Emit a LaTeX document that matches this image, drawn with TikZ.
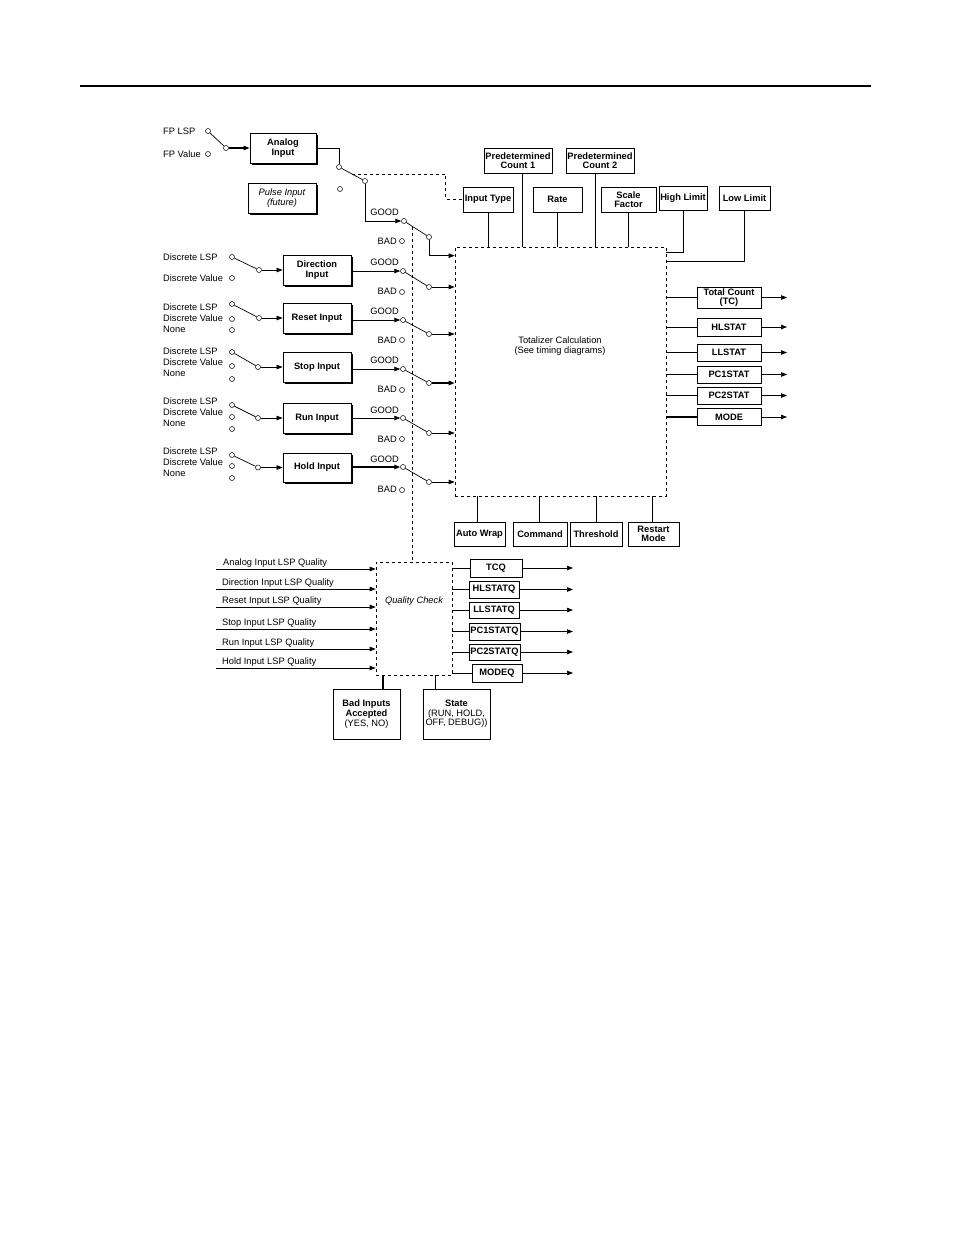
\documentclass[tikz,border=0pt]{standalone}
\usepackage{fontspec}
\setmainfont{Liberation Sans}
\usetikzlibrary{arrows.meta,shadows,calc}
\begin{document}
\begin{tikzpicture}[x=1pt,y=-1pt,
  font=\fontsize{9.3}{9.6}\selectfont,
  every node/.style={inner sep=0pt},
  box/.style={draw, line width=0.8pt, fill=white, align=center, font=\fontsize{9.3}{9.6}\selectfont\bfseries},
  sbox/.style={box, drop shadow={shadow xshift=1.6pt, shadow yshift=-1.6pt, opacity=1, fill=black}},
  tbox/.style={box, drop shadow={shadow xshift=0.8pt, shadow yshift=-0.8pt, opacity=1, fill=black}},
  pbox/.style={box, line width=0.8pt},
  contact/.style={circle, draw, line width=0.5pt, minimum size=5pt, fill=white},
  lab/.style={anchor=west},
  gl/.style={anchor=east},
  tip/.style={-{Triangle[length=6pt,width=4.5pt]}},
  ln/.style={line width=0.7pt},
  thk/.style={line width=1.4pt},
  dsh/.style={line width=0.7pt, dash pattern=on 3pt off 3pt},
  vdsh/.style={line width=1.3pt, dash pattern=on 3pt off 3pt},
]
\useasboundingbox (0,0) rectangle (954,1235);
\draw[line width=1.5pt] (80,86) -- (871,86);

% ---------- main blocks
\node[draw, dsh, minimum width=211pt, minimum height=249pt] (tot) at (560.5,371.5) {};
\node[align=center] (tott) at (560,346) {Totalizer Calculation\\(See timing diagrams)};
\node[draw, dsh, minimum width=76pt, minimum height=113pt] (qc) at (414,618.5) {};
\node[font=\fontsize{9.3}{9.6}\selectfont\itshape] (qct) at (414,601) {Quality Check};

% ---------- top parameter boxes
\node[tbox, minimum width=68pt, minimum height=25pt] (pc1) at (518,160.5) {Predetermined\\Count 1};
\node[tbox, minimum width=68pt, minimum height=25pt] (pc2) at (600,160.5) {Predetermined\\Count 2};
\node[tbox, minimum width=50pt, minimum height=25pt] (it) at (488,199.5) {Input Type};
\node[tbox, minimum width=49pt, minimum height=25pt] (rate) at (557.5,199.5) {Rate};
\node[tbox, minimum width=55pt, minimum height=25pt] (sf) at (628.5,199.5) {Scale\\Factor};
\node[tbox, minimum width=48pt, minimum height=24pt] (hl) at (683,198) {High Limit};
\node[tbox, minimum width=51pt, minimum height=24pt] (ll) at (744.5,198) {Low Limit};

\draw[ln] (it.south) -- (it.south |- tot.north);
\draw[ln] ([xshift=4pt]pc1.south) -- ([xshift=4pt]pc1.south |- tot.north);
\draw[thk] (rate.south) -- (rate.south |- tot.north);
\draw[ln] ([xshift=-5pt]pc2.south) -- ([xshift=-5pt]pc2.south |- tot.north);
\draw[thk] (sf.south) -- (sf.south |- tot.north);
\draw[ln] (hl.south) |- ($(tot.north east)+(0,6)$);
\draw[ln] (ll.south) |- ($(tot.north east)+(0,15)$);

% ---------- right outputs
\coordinate (rend) at (787,0);
\node[pbox, minimum width=64pt, minimum height=21pt] (tc) at (729,297.5) {Total Count\\(TC)};
\node[pbox, minimum width=64pt, minimum height=18pt] (hls) at (729,327) {HLSTAT};
\node[pbox, minimum width=64pt, minimum height=17pt] (lls) at (729,352.5) {LLSTAT};
\node[pbox, minimum width=64pt, minimum height=17pt] (pc1s) at (729,374.5) {PC1STAT};
\node[pbox, minimum width=64pt, minimum height=17pt] (pc2s) at (729,395.5) {PC2STAT};
\node[pbox, minimum width=64pt, minimum height=17pt] (mode) at (729,417) {MODE};
\foreach \n in {tc,hls,lls,pc1s,pc2s}{
  \draw[ln] (tot.east |- \n.west) -- (\n.west);
  \draw[ln,tip] (\n.east) -- (\n.east -| rend);
}
\draw[thk] (tot.east |- mode.west) -- (mode.west);
\draw[ln,tip] (mode.east) -- (mode.east -| rend);

% ---------- bottom parameter boxes
\node[pbox, minimum width=51pt, minimum height=24pt] (aw) at (479.5,534) {Auto Wrap};
\node[pbox, minimum width=54pt, minimum height=24pt] (cmd) at (540,534) {Command};
\node[pbox, minimum width=52pt, minimum height=24pt] (thr) at (596,534) {Threshold};
\node[pbox, minimum width=51pt, minimum height=24pt] (rm) at (653.5,534) {Restart\\Mode};
\draw[ln] ([xshift=-2.5pt]aw.north) -- ([xshift=-2.5pt]aw.north |- tot.south);
\draw[ln] ([xshift=-1pt]cmd.north) -- ([xshift=-1pt]cmd.north |- tot.south);
\draw[ln] (thr.north) -- (thr.north |- tot.south);
\draw[ln] ([xshift=-1.5pt]rm.north) -- ([xshift=-1.5pt]rm.north |- tot.south);

% ---------- analog input section
\node[lab] (fpl) at (163,131) {FP LSP};
\node[lab] (fpv) at (163,154) {FP Value};
\node[contact] (fc1) at (208,131) {};
\node[contact] (fc2) at (208,154) {};
\node[contact] (fp) at (226,148) {};
\node[sbox, minimum width=66pt, minimum height=30pt] (ai) at (283,148) {Analog\\Input};
\node[sbox, minimum width=68pt, minimum height=30pt, font=\fontsize{9.3}{9.6}\selectfont\itshape] (pi) at (282,198) {Pulse Input\\(future)};
\draw[ln] (fc1) -- (fp);
\draw[thk,tip] (fp) -- (ai);

\node[contact] (a1) at (339,167) {};
\node[contact] (a2) at (340,189) {};
\node[contact] (ap) at (365,181) {};
\draw[ln] (ai.east) -| (a1);
\draw[ln] (a1) -- (ap);
\coordinate (lm) at ($(a1)!0.5!(ap)$);
\draw[dsh] (lm) -| ([xshift=-17pt]it.west) -- (it.west);

\node[contact] (g0) at (404,221) {};
\node[contact] (b0) at (402,241) {};
\node[contact] (q0) at (429,237) {};
\node[gl] (g0t) at (399,212) {GOOD};
\node[gl] (b0t) at (397,241) {BAD};
\draw[ln,tip] (ap) |- (g0);
\draw[ln] (g0) -- (q0);
\draw[ln,tip] (q0) |- ($(tot.north west)+(0,9)$);

% ---------- direction input
\node[lab] (dl1) at (163,257) {Discrete LSP};
\node[lab] (dl2) at (163,278) {Discrete Value};
\node[contact] (dc1) at (232,257) {};
\node[contact] (dc2) at (232,278) {};
\node[contact] (dp) at (259,270) {};
\node[sbox, minimum width=68pt, minimum height=30pt] (di) at (317,270) {Direction\\Input};
\draw[ln] (dc1) -- (dp);
\draw[ln,tip] (dp) -- (di);
\node[contact] (g1) at (403,271) {};
\node[contact] (b1) at (402,292) {};
\node[contact] (q1) at (429,287) {};
\node[gl] (g1t) at (399,262) {GOOD};
\node[gl] (b1t) at (397,291) {BAD};
\draw[ln,tip] (di.east |- g1) -- (g1);
\draw[ln] (g1) -- (q1);
\draw[ln,tip] (q1) -- (tot.west |- q1);

% ---------- reset input
\node[lab] (rl1) at (163,307) {Discrete LSP};
\node[lab] (rl2) at (163,318) {Discrete Value};
\node[lab] (rl3) at (163,329) {None};
\node[contact] (rc1) at (232,304) {};
\node[contact] (rc2) at (232,319) {};
\node[contact] (rc3) at (232,330) {};
\node[contact] (rp) at (259,318) {};
\node[sbox, minimum width=68pt, minimum height=30pt] (ri) at (317,318) {Reset Input};
\draw[ln] (rc1) -- (rp);
\draw[ln,tip] (rp) -- (ri);
\node[contact] (g2) at (403,320) {};
\node[contact] (b2) at (402,340) {};
\node[contact] (q2) at (429,334) {};
\node[gl] (g2t) at (399,311) {GOOD};
\node[gl] (b2t) at (397,340) {BAD};
\draw[ln,tip] (ri.east |- g2) -- (g2);
\draw[ln] (g2) -- (q2);
\draw[ln,tip] (q2) -- (tot.west |- q2);

% ---------- stop input
\node[lab] (sl1) at (163,351) {Discrete LSP};
\node[lab] (sl2) at (163,362) {Discrete Value};
\node[lab] (sl3) at (163,373) {None};
\node[contact] (sc1) at (232,352) {};
\node[contact] (sc2) at (232,366) {};
\node[contact] (sc3) at (232,379) {};
\node[contact] (sp) at (258,367) {};
\node[sbox, minimum width=68pt, minimum height=30pt] (si) at (317,367) {Stop Input};
\draw[ln] (sc1) -- (sp);
\draw[ln,tip] (sp) -- (si);
\node[contact] (g3) at (403,369) {};
\node[contact] (b3) at (402,390) {};
\node[contact] (q3) at (429,383) {};
\node[gl] (g3t) at (399,360) {GOOD};
\node[gl] (b3t) at (397,389) {BAD};
\draw[ln,tip] (si.east |- g3) -- (g3);
\draw[ln] (g3) -- (q3);
\draw[thk,tip] (q3) -- (tot.west |- q3);

% ---------- run input
\node[lab] (ul1) at (163,401) {Discrete LSP};
\node[lab] (ul2) at (163,412) {Discrete Value};
\node[lab] (ul3) at (163,423) {None};
\node[contact] (uc1) at (232,405) {};
\node[contact] (uc2) at (232,417) {};
\node[contact] (uc3) at (232,429) {};
\node[contact] (up) at (258,418) {};
\node[sbox, minimum width=68pt, minimum height=30pt] (rui) at (317,418) {Run Input};
\draw[ln] (uc1) -- (up);
\draw[ln,tip] (up) -- (rui);
\node[contact] (g4) at (403,418) {};
\node[contact] (b4) at (402,439) {};
\node[contact] (q4) at (429,433) {};
\node[gl] (g4t) at (399,410) {GOOD};
\node[gl] (b4t) at (397,439) {BAD};
\draw[ln,tip] (rui.east |- g4) -- (g4);
\draw[ln] (g4) -- (q4);
\draw[ln,tip] (q4) -- (tot.west |- q4);

% ---------- hold input
\node[lab] (hl1) at (163,451) {Discrete LSP};
\node[lab] (hl2) at (163,462) {Discrete Value};
\node[lab] (hl3) at (163,473) {None};
\node[contact] (hc1) at (232,455) {};
\node[contact] (hc2) at (232,466) {};
\node[contact] (hc3) at (232,478) {};
\node[contact] (hp) at (258,467.5) {};
\node[sbox, minimum width=68pt, minimum height=29pt] (hi) at (317,467.5) {Hold Input};
\draw[ln] (hc1) -- (hp);
\draw[ln,tip] (hp) -- (hi);
\node[contact] (g5) at (403,467) {};
\node[contact] (b5) at (402,490) {};
\node[contact] (q5) at (429,482) {};
\node[gl] (g5t) at (399,459) {GOOD};
\node[gl] (b5t) at (397,489) {BAD};
\draw[thk,tip] (hi.east |- g5) -- (g5);
\draw[ln] (g5) -- (q5);
\draw[ln,tip] (q5) -- (tot.west |- q5);

% ---------- mechanical link of the GOOD/BAD switches
\coordinate (vm) at ($(g0)!0.35!(q0)$);
\draw[vdsh] (vm) -- (vm |- qc.north);

% ---------- quality check inputs
\node[lab] (qt1) at (223,563) {Analog Input LSP Quality};
\node[lab] (qt2) at (222,583) {Direction Input LSP Quality};
\node[lab] (qt3) at (222,601) {Reset Input LSP Quality};
\node[lab] (qt4) at (222,623) {Stop Input LSP Quality};
\node[lab] (qt5) at (222,643) {Run Input LSP Quality};
\node[lab] (qt6) at (222,662) {Hold Input LSP Quality};
\coordinate (qa1) at (216,569);
\coordinate (qa2) at (216,589);
\coordinate (qa3) at (216,607);
\coordinate (qa4) at (216,629);
\coordinate (qa5) at (216,649);
\coordinate (qa6) at (216,668);
\foreach \q in {qa1,qa2,qa3,qa4,qa5,qa6}{
  \draw[ln,tip] (\q) -- (\q -| qc.west);
}

% ---------- quality outputs
\coordinate (qend) at (573,0);
\node[tbox, minimum width=52pt, minimum height=18pt] (tcq) at (496,568) {TCQ};
\node[tbox, minimum width=50pt, minimum height=17pt] (hlq) at (494,589.5) {HLSTATQ};
\node[tbox, minimum width=50pt, minimum height=16pt] (llq) at (494,610) {LLSTATQ};
\node[tbox, minimum width=51pt, minimum height=17pt] (pc1q) at (494.5,631.5) {PC1STATQ};
\node[tbox, minimum width=51pt, minimum height=16pt] (pc2q) at (494.5,652) {PC2STATQ};
\node[tbox, minimum width=50pt, minimum height=18pt] (modeq) at (497,673) {MODEQ};
\foreach \n in {tcq,hlq,llq,pc1q,pc2q,modeq}{
  \draw[ln] (qc.east |- \n.west) -- (\n.west);
  \draw[ln,tip] (\n.east) -- (\n.east -| qend);
}

% ---------- quality parameters
\node[pbox, minimum width=67pt, minimum height=50pt] (bia) at (366.5,714) {Bad Inputs\\Accepted\\{\mdseries (YES, NO)}};
\node[pbox, minimum width=67pt, minimum height=50pt] (state) at (456.5,714) {State\\{\mdseries (RUN, HOLD,}\\{\mdseries OFF, DEBUG))}};
\coordinate (bx) at (383,0);
\coordinate (sx) at (435,0);
\draw[thk] (bia.north -| bx) -- (qc.south -| bx);
\draw[ln] (state.north -| sx) -- (qc.south -| sx);
\end{tikzpicture}
\end{document}
